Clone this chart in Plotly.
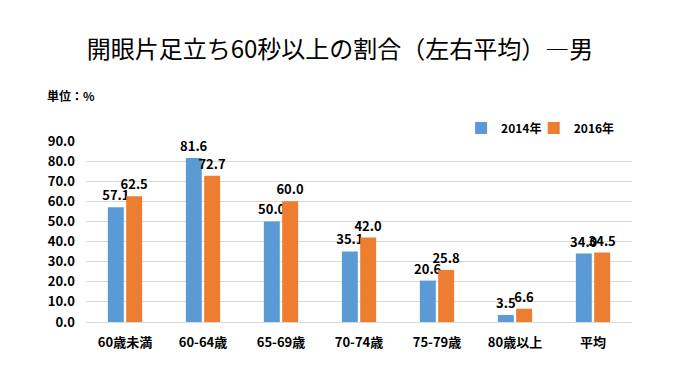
import plotly.graph_objects as go

categories = ["60歳未満", "60-64歳", "65-69歳", "70-74歳", "75-79歳", "80歳以上", "平均"]
values_2014 = [57.1, 81.6, 50.0, 35.1, 20.6, 3.5, 34.0]
values_2016 = [62.5, 72.7, 60.0, 42.0, 25.8, 6.6, 34.5]
series_names = ["2014年", "2016年"]
y_ticks = [0, 10, 20, 30, 40, 50, 60, 70, 80, 90]

FONT = "Noto Sans CJK JP"
BLUE = "#5B9BD5"
ORANGE = "#ED7D31"

fig = go.Figure()
for name, vals, col, lg in [(series_names[0], values_2014, BLUE, "legend"),
                            (series_names[1], values_2016, ORANGE, "legend2")]:
    fig.add_trace(go.Bar(
        x=categories, y=vals, name=f"<b>{name}</b>", legend=lg, showlegend=True,
        marker=dict(color=col, line=dict(color=col, width=0)),
        text=[f"<b>{v:.1f}</b>" for v in vals],
        textposition="outside",
        constraintext="none",
        cliponaxis=False,
        textfont=dict(family=FONT, size=13, color="#000000"),
    ))

legend_common = dict(orientation="h", y=1.072, xanchor="left", yanchor="middle",
                     font=dict(family=FONT, size=12, color="#000000"),
                     itemwidth=30, bgcolor="rgba(0,0,0,0)", visible=True)

fig.update_layout(
    width=680, height=383, autosize=False, showlegend=True,
    margin=dict(l=86, r=48, t=141, b=61, autoexpand=False),
    paper_bgcolor="white", plot_bgcolor="white",
    barmode="group", bargap=0.53, bargroupgap=0.13,
    font=dict(family=FONT, color="#000000"),
    title=dict(text="開眼片足立ち60秒以上の割合（左右平均）―男",
               x=0.5, xanchor="center", y=0.87, yanchor="middle",
               font=dict(family=FONT, size=24, color="#000000")),
    legend=dict(x=0.687, **legend_common),
    legend2=dict(x=0.82, **legend_common),
)
fig.add_annotation(text="<b>単位：%</b>", xref="paper", yref="paper",
                   x=-0.075, y=1.254, xanchor="left", yanchor="middle",
                   showarrow=False, font=dict(family=FONT, size=12, color="#000000"))

fig.update_yaxes(range=[0, 90], tickvals=y_ticks,
                 ticktext=[f"<b>{v:.1f}</b>" for v in y_ticks],
                 showgrid=True, gridcolor="#D9D9D9", gridwidth=1,
                 zeroline=False, showline=False, ticks="", automargin=False,
                 tickfont=dict(family=FONT, size=13, color="#000000"),
                 ticklabelstandoff=10)
fig.update_xaxes(showline=True, linecolor="#D9D9D9", linewidth=1, ticks="",
                 automargin=False,
                 tickvals=categories, ticktext=[f"<b>{c}</b>" for c in categories],
                 tickfont=dict(family=FONT, size=13, color="#000000"),
                 ticklabelstandoff=8)

fig.write_html("out.html", config={"displayModeBar": False},
               post_script="document.body.style.margin='0';document.body.style.overflow='hidden';")
